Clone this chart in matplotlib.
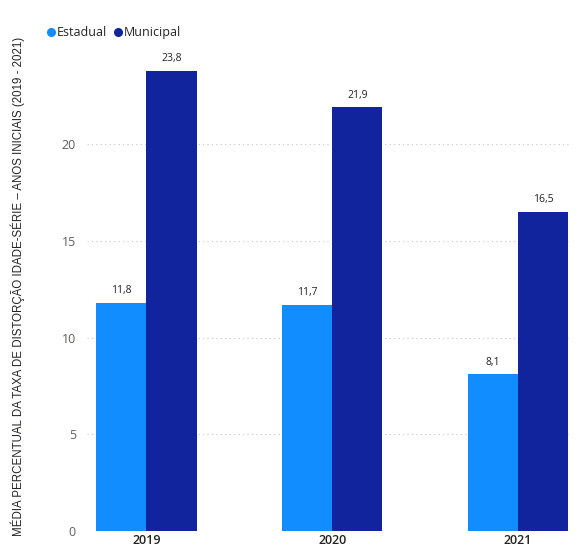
import matplotlib.pyplot as plt
from matplotlib.lines import Line2D
import numpy as np

anos = ['2019', '2020', '2021']
estadual = [11.8, 11.7, 8.1]
municipal = [23.8, 21.9, 16.5]
yticks = [0, 5, 10, 15, 20]

plt.rcParams['font.family'] = ['Open Sans', 'DejaVu Sans']

fig = plt.figure(figsize=(5.79, 5.49), dpi=100)
ax = fig.add_axes([87 / 579, 18 / 549, 485 / 579, 474 / 549])

x = np.arange(len(anos))
w = 0.27
b1 = ax.bar(x - w / 2, estadual, w, color='#118DFF', label='Estadual')
b2 = ax.bar(x + w / 2, municipal, w, color='#12239E', label='Municipal')

for bars, vals in ((b1, estadual), (b2, municipal)):
    for r, v in zip(bars, vals):
        ax.text(r.get_x() + r.get_width() / 2, v + 0.35, f'{v:.1f}'.replace('.', ','),
                ha='center', va='bottom', fontsize=7.5, color='#252423')

ax.set_xlim(-0.32, 2.29)
ax.set_ylim(0, 24.5)
ax.set_xticks(x)
ax.set_xticklabels(anos, fontsize=9, color='#252423', fontweight='semibold')
ax.set_yticks(yticks)
ax.set_yticklabels([str(t) for t in yticks], fontsize=9, color='#605E5C')
ax.tick_params(length=0, pad=8)
ax.tick_params(axis='x', pad=2)
ax.grid(axis='y', linestyle=(0, (1, 3)), color='#C8C6C4', linewidth=0.8)
ax.set_axisbelow(True)
for s in ax.spines.values():
    s.set_visible(False)

fig.text(18 / 579, 0.478, 'MÉDIA PERCENTUAL DA TAXA DE DISTORÇÃO IDADE-SÉRIE – ANOS INICIAIS (2019 - 2021)',
         rotation=90, ha='center', va='center', fontsize=8.3, color='#252423',
         family=['Liberation Sans', 'DejaVu Sans'])

handles = [Line2D([], [], marker='o', ls='none', color='#118DFF', markersize=5.5),
           Line2D([], [], marker='o', ls='none', color='#12239E', markersize=5.5)]
fig.legend(handles=handles, labels=['Estadual', 'Municipal'], loc='upper left',
           bbox_to_anchor=(42 / 579, 1 - 20 / 549), ncol=2, frameon=False, fontsize=9,
           handlelength=0.5, handletextpad=0.2, columnspacing=0.6, borderpad=0,
           labelcolor='#252423')

fig.savefig('out.png')
